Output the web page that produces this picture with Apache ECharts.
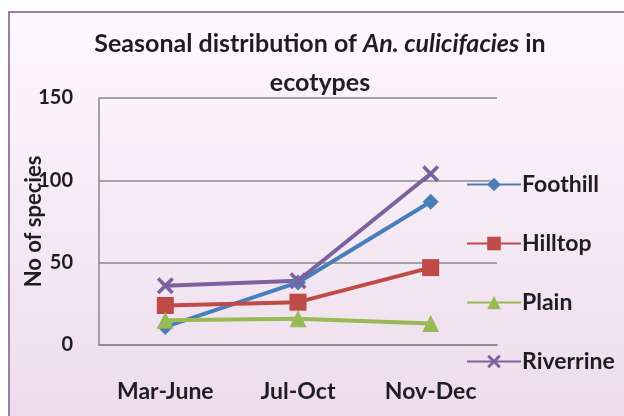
<!DOCTYPE html>
<html>
<head>
<meta charset="utf-8">
<script src="https://cdn.jsdelivr.net/npm/echarts@6/dist/echarts.min.js"></script>
<style>html,body{margin:0;padding:0;background:#fff}#c{width:624px;height:416px}</style>
</head>
<body>
<div id="c"></div>
<script>
const categories = ['Mar-June', 'Jul-Oct', 'Nov-Dec'];
const foothill = [11, 38, 87];
const hilltop = [24, 26, 47];
const plain = [15, 16, 13];
const riverrine = [36, 39, 104];
const yTicks = [0, 50, 100, 150];

const FONT = 'Lato';
const xPath = 'path://M0,1.5 L1.5,0 L5,3.5 L8.5,0 L10,1.5 L6.5,5 L10,8.5 L8.5,10 L5,6.5 L1.5,10 L0,8.5 L3.5,5 Z';

const chart = echarts.init(document.getElementById('c'), null, {renderer: 'canvas'});
function mk(name, data, color, symbol, size) {
  return {
    name: name, type: 'line', data: data,
    symbol: symbol, symbolSize: size,
    lineStyle: {color: color, width: 4},
    itemStyle: {color: color},
    z: 3
  };
}
chart.setOption({
  backgroundColor: '#ffffff',
  animation: false,
  graphic: [{
    type: 'rect', z: -10, silent: true,
    shape: {x: 9, y: 12, width: 640, height: 420},
    style: {
      fill: new echarts.graphic.LinearGradient(0, 0, 0, 1, [
        {offset: 0, color: '#fdf9fd'},
        {offset: 1, color: '#ecdbeb'}
      ]),
      stroke: '#9c7ca6', lineWidth: 2
    }
  }],
  title: {
    text: 'Seasonal distribution of {i|An. culicifacies} in\necotypes',
    left: 315, top: 19, textAlign: 'center',
    textStyle: {
      fontFamily: FONT, fontWeight: 'bold', fontSize: 25, color: '#1e1e1e', lineHeight: 39,
      rich: {i: {fontFamily: FONT, fontWeight: 'bold', fontStyle: 'italic', fontSize: 25, color: '#1e1e1e', lineHeight: 39}}
    }
  },
  grid: {left: 99, right: 127, top: 98, bottom: 71},
  legend: {
    orient: 'vertical', left: 461, top: 168, itemGap: 36,
    itemWidth: 54, itemHeight: 17,
    textStyle: {fontFamily: FONT, fontWeight: 'bold', fontSize: 23, color: '#1e1e1e', padding: [0, 0, 0, -4]},
    data: ['Foothill', 'Hilltop', 'Plain', 'Riverrine']
  },
  xAxis: {
    type: 'category', data: categories, boundaryGap: true,
    axisLine: {lineStyle: {color: '#888', width: 1.5}},
    axisTick: {show: false},
    axisLabel: {fontFamily: FONT, fontWeight: 'bold', fontSize: 23, color: '#1e1e1e', margin: 35}
  },
  yAxis: {
    type: 'value', min: 0, max: 150, interval: 50,
    name: 'No of species', nameLocation: 'middle', nameGap: 54, nameMoveOverlap: false,
    nameTextStyle: {fontFamily: FONT, fontWeight: 'bold', fontSize: 22, color: '#1e1e1e'},
    axisLine: {show: true, lineStyle: {color: '#888', width: 1.5}},
    axisTick: {show: false},
    splitLine: {lineStyle: {color: '#888', width: 1.5}},
    axisLabel: {fontFamily: FONT, fontWeight: 'bold', fontSize: 20, color: '#1e1e1e', margin: 26,
      formatter: v => yTicks.includes(v) ? String(v) : ''}
  },
  series: [
    mk('Foothill', foothill, '#4a7ebb', 'diamond', 16),
    mk('Hilltop', hilltop, '#be4b48', 'rect', 17),
    mk('Plain', plain, '#98b954', 'triangle', 17),
    mk('Riverrine', riverrine, '#7d60a0', xPath, 17)
  ]
});
</script>
</body>
</html>
